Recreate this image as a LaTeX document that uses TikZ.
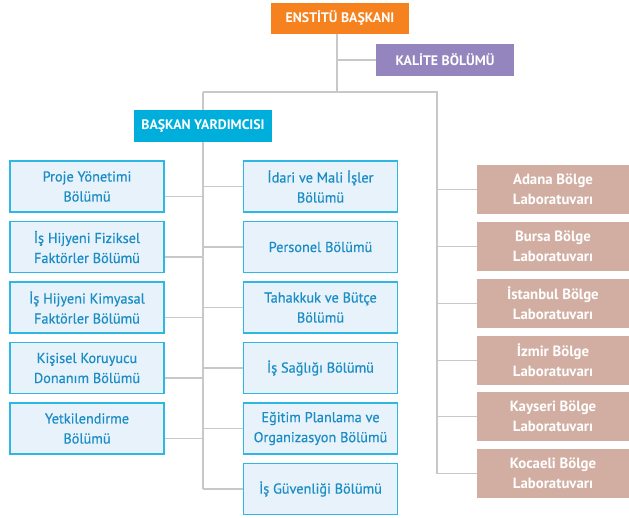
\documentclass[tikz,border=0pt]{standalone}
\usepackage{fontspec}
\setmainfont{PT Sans}
\newfontfamily\bluefont[FakeBold=0.5]{PT Sans}
\definecolor{orangeB}{HTML}{F5821F}
\definecolor{purpleB}{HTML}{9585BE}
\definecolor{cyanB}{HTML}{00AEDB}
\definecolor{lightB}{HTML}{E7F2FA}
\definecolor{borderB}{HTML}{2DB7E2}
\definecolor{textB}{HTML}{1A8CC6}
\definecolor{labB}{HTML}{D2AEA2}
\definecolor{lineG}{HTML}{C8C8C8}
\begin{document}
\begin{tikzpicture}[x=1pt,y=-1pt,
  head/.style={rectangle, inner sep=0pt, text=white, font=\fontsize{13.8}{15}\selectfont\bfseries, minimum height=31pt},
  bluebox/.style={rectangle, draw=borderB, line width=1.5pt, fill=lightB, text=textB, inner sep=0pt,
     minimum width=154pt, minimum height=51pt, align=center, font=\bluefont\fontsize{14.3}{20}\selectfont},
  labbox/.style={rectangle, fill=labB, text=white, inner sep=0pt, minimum width=152pt, minimum height=49pt,
     align=center, font=\fontsize{14.8}{20}\selectfont\bfseries},
  conn/.style={draw=lineG, line width=1.6pt}]
\useasboundingbox (0,0) rectangle (629,517);
\coordinate (j1) at (337,92);
\coordinate (jl) at (203,92);
\coordinate (jr) at (437,92);
\coordinate (jend) at (203,489);
\coordinate (jlabend) at (437,473.5);

\node[head, fill=orangeB, minimum width=138pt] (top) at (340,18) {ENSTİTÜ BAŞKANI};
\node[head, fill=purpleB, minimum width=138pt, minimum height=32pt] (kal) at (445,60) {KALİTE BÖLÜMÜ};

\node[bluebox] (l1) at (87,186.5) {Proje Yönetimi\\Bölümü};
\node[bluebox] (l2) at (87,247) {İş Hijyeni Fiziksel\\Faktörler Bölümü};
\node[bluebox] (l3) at (87,307.5) {İş Hijyeni Kimyasal\\Faktörler Bölümü};
\node[bluebox] (l4) at (87,368) {Kişisel Koruyucu\\Donanım Bölümü};
\node[bluebox] (l5) at (87,428.5) {Yetkilendirme\\Bölümü};

\node[bluebox] (r1) at (320.5,186.5) {İdari ve Mali İşler\\Bölümü};
\node[bluebox] (r2) at (320.5,247) {Personel Bölümü};
\node[bluebox] (r3) at (320.5,307.5) {Tahakkuk ve Bütçe\\Bölümü};
\node[bluebox] (r4) at (320.5,368) {İş Sağlığı Bölümü};
\node[bluebox] (r5) at (320.5,428.5) {Eğitim Planlama ve\\Organizasyon Bölümü};
\node[bluebox] (r6) at (320.5,489) {İş Güvenliği Bölümü};

\node[labbox] (b1) at (553,189.5) {Adana Bölge\\Laboratuvarı};
\node[labbox] (b2) at (553,246.5) {Bursa Bölge\\Laboratuvarı};
\node[labbox] (b3) at (553,303.5) {İstanbul Bölge\\Laboratuvarı};
\node[labbox] (b4) at (553,360.5) {İzmir Bölge\\Laboratuvarı};
\node[labbox] (b5) at (553,416.5) {Kayseri Bölge\\Laboratuvarı};
\node[labbox] (b6) at (553,473.5) {Kocaeli Bölge\\Laboratuvarı};

\path[conn] (top.south -| j1) -- (j1);
\path[conn] (kal.west) -- (kal.west -| j1);
\path[conn] (jl) -- (jr) -- (jlabend);
\node[head, fill=cyanB, minimum width=138pt, minimum height=32pt] (bay) at (203,126) {BAŞKAN YARDIMCISI};
\path[conn] (jl) -- (bay.north);
\path[conn] (bay.south) -- (jend);
\foreach \n in {1,...,5} {
  \path[conn] ([yshift=-10pt]l\n.east) -- ([yshift=-10pt]l\n.east -| jend);
}
\foreach \n in {1,...,6} {
  \path[conn] (r\n.west) -- (r\n.west -| jend);
  \path[conn] (b\n.west) -- (b\n.west -| jr);
}
\end{tikzpicture}
\end{document}
